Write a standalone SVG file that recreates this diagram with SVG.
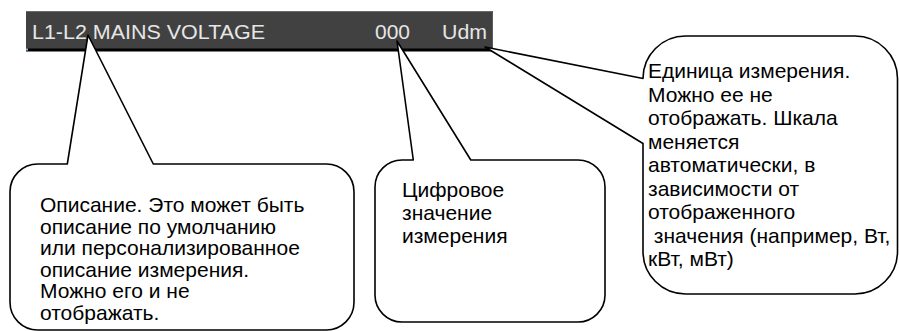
<svg xmlns="http://www.w3.org/2000/svg" width="899" height="331" viewBox="0 0 899 331">
<style>
.call{fill:#fff;stroke:#000;stroke-width:1.6;stroke-linejoin:round}
.t{font-family:"Liberation Sans",Arial,sans-serif;font-size:21px;fill:#000}
.bt{font-family:"Liberation Sans",Arial,sans-serif;font-size:21px;fill:#e6e6e6}
</style>
<rect width="899" height="331" fill="#fff"/>
<g id="bar">
<rect x="26" y="11" width="467" height="39" fill="#414141"/>
<line x1="26" y1="11.5" x2="493" y2="11.5" stroke="#6a6a6a"/>
<line x1="492.5" y1="11" x2="492.5" y2="50" stroke="#5a5a5a"/>
<rect x="26" y="48.5" width="467" height="3" fill="#000"/>
<rect x="26" y="48.5" width="2" height="2" fill="#8fb4d8"/>
<text class="bt" x="32" y="39" textLength="233" lengthAdjust="spacingAndGlyphs">L1-L2 MAINS VOLTAGE</text>
<text class="bt" x="375" y="39" textLength="35" lengthAdjust="spacingAndGlyphs">000</text>
<text class="bt" x="442" y="39" textLength="45" lengthAdjust="spacingAndGlyphs">Udm</text>
</g>
<g id="connectors"></g>
<g id="callout-description">
<path class="call" d="M67.3,164 L88,35 L153.3,164 L326.3,164 A27.7,27.7 0 0 1 354,191.7 L354,302.3 A27.7,27.7 0 0 1 326.3,330 L37.7,330 A27.7,27.7 0 0 1 10,302.3 L10,191.7 A27.7,27.7 0 0 1 37.7,164 Z"/>
<text class="t"><tspan x="40" y="212">Описание. Это может быть</tspan><tspan x="40" y="233.5">описание по умолчанию</tspan><tspan x="40" y="255">или персонализированное</tspan><tspan x="40" y="276.5">описание измерения.</tspan><tspan x="40" y="298">Можно его и не</tspan><tspan x="40" y="319.5">отображать.</tspan></text>
</g>
<g id="callout-value">
<path class="call" d="M413.3,160 L397,41 L470.8,160 L578,160 A27,27 0 0 1 605,187 L605,295 A27,27 0 0 1 578,322 L402,322 A27,27 0 0 1 375,295 L375,187 A27,27 0 0 1 402,160 Z"/>
<text class="t"><tspan x="402" y="197">Цифровое</tspan><tspan x="402" y="220">значение</tspan><tspan x="402" y="243">измерения</tspan></text>
</g>
<g id="callout-unit">
<path class="call" d="M643,78.5 L485,47 L643,143.5 L643,251.5 A42.5,42.5 0 0 0 685.5,294 L855,294 A42.5,42.5 0 0 0 897.5,251.5 L897.5,78.5 A42.5,42.5 0 0 0 855,36 L685.5,36 A42.5,42.5 0 0 0 643,78.5 Z"/>
<text class="t"><tspan x="648" y="78">Единица измерения.</tspan><tspan x="648" y="101.5">Можно ее не</tspan><tspan x="648" y="125">отображать. Шкала</tspan><tspan x="648" y="148.5">меняется</tspan><tspan x="648" y="172">автоматически, в</tspan><tspan x="648" y="195.5">зависимости от</tspan><tspan x="648" y="219">отображенного</tspan><tspan x="648" y="242.5" xml:space="preserve"> значения (например, Вт,</tspan><tspan x="648" y="266">кВт, мВт)</tspan></text>
</g>
</svg>
